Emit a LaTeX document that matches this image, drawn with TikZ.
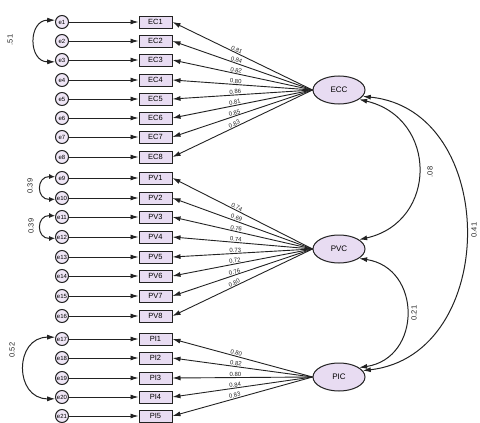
\documentclass[tikz,border=0pt]{standalone}
\usepackage{fontspec}
\setmainfont{Liberation Sans}
\usetikzlibrary{arrows.meta,shapes.geometric}
\definecolor{lav}{HTML}{E8DCF2}
\definecolor{lavl}{HTML}{EFE6F6}
\definecolor{ink}{HTML}{222222}
\begin{document}
\begin{tikzpicture}[x=1pt,y=-1pt,
  obs/.style={draw=ink, fill=lav, minimum width=33pt, minimum height=12pt, inner sep=0pt, line width=1pt, font=\fontsize{7.5}{7.5}\selectfont},
  err/.style={circle, draw=ink, fill=lavl, minimum size=13pt, inner sep=0pt, line width=1pt, font=\fontsize{6}{6}\selectfont},
  lat/.style={ellipse, draw=ink, fill=lav, minimum width=52pt, minimum height=28pt, inner sep=0pt, line width=1pt, font=\fontsize{8}{8}\selectfont},
  arr/.style={draw=ink, line width=0.9pt, -{Latex[length=8pt,width=5pt]}},
  barr/.style={draw=ink, line width=1pt, {Latex[length=8pt,width=5pt]}-{Latex[length=8pt,width=5pt]}},
  sarr/.style={draw=ink, line width=1pt, {Latex[length=6pt,width=5pt]}-{Latex[length=6pt,width=5pt]}},
  lab/.style={font=\fontsize{6}{6}\selectfont, inner sep=0.6pt, text=ink},
  clab/.style={font=\fontsize{7.5}{7.5}\selectfont, inner sep=0pt, rotate=90, text=ink}
]
\useasboundingbox (0,0) rectangle (480,423);

% indicators and error terms
\foreach \i/\y in {1/22,2/41,3/60,4/80,5/99,6/118,7/137,8/157}{
  \node[err] (e\i) at (62,\y) {e\i};
  \node[obs] (EC\i) at (155.5,\y) {EC\i};
  \draw[arr] (e\i) -- (EC\i);
}
\foreach \i/\e/\y in {1/9/178,2/10/198,3/11/217,4/12/237,5/13/257,6/14/276,7/15/296,8/16/316}{
  \node[err] (e\e) at (62,\y) {e\e};
  \node[obs] (PV\i) at (155.5,\y) {PV\i};
  \draw[arr] (e\e) -- (PV\i);
}
\foreach \i/\e/\y in {1/17/339,2/18/358,3/19/378,4/20/397,5/21/416}{
  \node[err] (e\e) at (62,\y) {e\e};
  \node[obs] (PI\i) at (155.5,\y) {PI\i};
  \draw[arr] (e\e) -- (PI\i);
}

% latent variables
\node[lat] (ECC) at (339,90) {ECC};
\node[lat] (PVC) at (339,249) {PVC};
\node[lat] (PIC) at (339,377) {PIC};

% loadings
\foreach \i/\v in {1/0.81,2/0.84,3/0.82,4/0.80,5/0.86,6/0.81,7/0.85,8/0.83}{
  \draw[arr] (ECC.west) -- node[lab, sloped, above, pos=0.55] {\v} (EC\i.east);
}
\foreach \i/\v in {1/0.74,2/0.69,3/0.76,4/0.74,5/0.73,6/0.72,7/0.76,8/0.80}{
  \draw[arr] (PVC.west) -- node[lab, sloped, above, pos=0.55] {\v} (PV\i.east);
}
\foreach \i/\v in {1/0.80,2/0.82,3/0.80,4/0.84,5/0.83}{
  \draw[arr] (PIC.west) -- node[lab, sloped, above, pos=0.55] {\v} (PI\i.east);
}

% error covariances
\draw[barr] (e1.165) .. controls (28,20) and (28,62) .. (e3.195);
\node[clab] (c1) at (10,40) {.51};
\draw[sarr] (e9.170) .. controls (36,176) and (36,200) .. (e10.190);
\node[clab] (c2) at (30,186) {0.39};
\draw[sarr] (e11.170) .. controls (36,215) and (36,239) .. (e12.190);
\node[clab] (c3) at (31,226) {0.39};
\draw[barr] (e17.165) .. controls (14,337) and (14,399) .. (e20.195);
\node[clab] (c4) at (12,350) {0.52};

% factor covariances
\draw[barr] (ECC.-25) .. controls (438,118) and (438,222) .. (PVC.25);
\node[clab] (c5) at (430,172) {.08};
\draw[barr] (ECC.-15) .. controls (500,110) and (500,355) .. (PIC.15);
\node[clab] (c6) at (474,230) {0.41};
\draw[barr] (PVC.-25) .. controls (422,268) and (422,358) .. (PIC.25);
\node[clab] (c7) at (414,313) {0.21};
\end{tikzpicture}
\end{document}
